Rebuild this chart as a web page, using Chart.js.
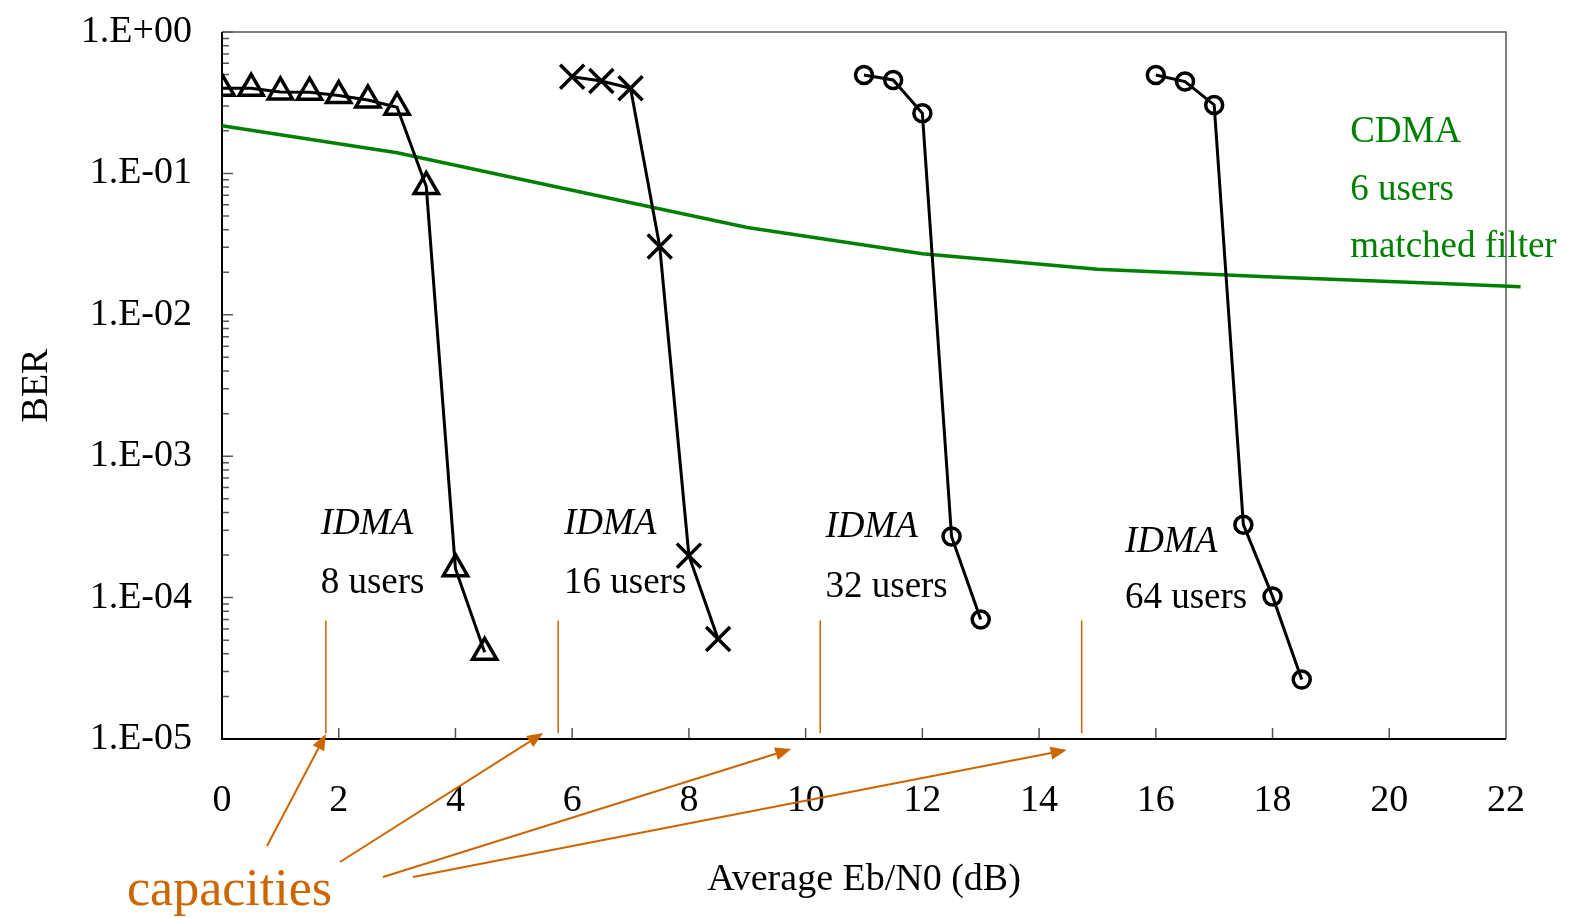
<!DOCTYPE html>
<html>
<head>
<meta charset="utf-8">
<script src="https://cdn.jsdelivr.net/npm/chart.js@4.4.1/dist/chart.umd.min.js"></script>
<style>
  html, body { margin: 0; padding: 0; background: #fff; }
  canvas { display: block; }
</style>
</head>
<body>
<canvas id="ber-chart" width="1579" height="918"></canvas>
<script>
  // IDMA, 8 users (triangles)
  var snr8 = [0, 0.5, 1, 1.5, 2, 2.5, 3, 3.5, 4, 4.5];
  var ber8 = [0.40, 0.40, 0.377, 0.375, 0.355, 0.33, 0.294, 0.0807, 1.6e-4, 4.1e-5];
  // IDMA, 16 users (crosses)
  var snr16 = [6, 6.5, 7, 7.5, 8, 8.5];
  var ber16 = [0.483, 0.45, 0.40, 0.0304, 1.98e-4, 5.1e-5];
  // IDMA, 32 users (circles)
  var snr32 = [11, 11.5, 12, 12.5, 13];
  var ber32 = [0.497, 0.458, 0.266, 2.71e-4, 7.0e-5];
  // IDMA, 64 users (circles)
  var snr64 = [16, 16.5, 17, 17.5, 18, 18.5];
  var ber64 = [0.497, 0.446, 0.305, 3.28e-4, 1.02e-4, 2.63e-5];
  // CDMA, 6 users, matched filter
  var snrCdma = [0, 3, 6, 9, 12, 15, 18, 21, 22.25];
  var berCdma = [0.217, 0.14, 0.076, 0.0414, 0.027, 0.021, 0.0185, 0.0166, 0.0158];
  // capacity limits (dB)
  var capacities = [1.78, 5.76, 10.25, 14.73];
  var capTop = 6.9e-5;
  var capBottom = 1.1e-5;

  var xTicks = [0, 2, 4, 6, 8, 10, 12, 14, 16, 18, 20, 22];
  var yDecades = [1e-5, 1e-4, 1e-3, 1e-2, 1e-1, 1];

  // label text + anchors (data coords)
  var usersText = ['8 users', '16 users', '32 users', '64 users'];
  var idmaX = [1.69, 5.86, 10.34, 15.47];
  var idmaY = [2.83e-4, 2.83e-4, 2.69e-4, 2.09e-4];
  var usersY = [1.08e-4, 1.08e-4, 1.01e-4, 8.46e-5];
  var cdmaText = ['CDMA', '6 users', 'matched filter'];
  var cdmaX = 19.33;
  var cdmaY = [0.168, 0.065, 0.0258];

  var SERIF = "'Liberation Serif', 'Times New Roman', serif";
  var ORANGE = '#cc6600';
  var GREEN = '#008000';

  function pts(xs, ys) {
    return xs.map(function (x, i) { return { x: x, y: ys[i] }; });
  }

  function idma(data, style, radius) {
    return {
      data: data,
      borderColor: '#000',
      borderWidth: 3,
      pointStyle: style,
      pointRadius: radius,
      pointBorderWidth: 3.5,
      pointBorderColor: '#000',
      pointBackgroundColor: 'rgba(0,0,0,0)',
      tension: 0
    };
  }

  var datasets = [
    idma(pts(snr8, ber8), 'triangle', 14),
    idma(pts(snr16, ber16), 'crossRot', 17),
    idma(pts(snr32, ber32), 'circle', 8.5),
    idma(pts(snr64, ber64), 'circle', 8.5),
    {
      data: pts(snrCdma, berCdma),
      borderColor: GREEN,
      borderWidth: 3.5,
      pointRadius: 0,
      clip: false,
      tension: 0
    }
  ];
  capacities.forEach(function (c) {
    datasets.push({
      data: [{ x: c, y: capTop }, { x: c, y: capBottom }],
      borderColor: ORANGE,
      borderWidth: 1.5,
      pointRadius: 0
    });
  });

  // frame + inward ticks
  var framePlugin = {
    id: 'frame',
    beforeDatasetsDraw: function (chart) {
      var ctx = chart.ctx, a = chart.chartArea;
      var xs = chart.scales.x, ys = chart.scales.y;
      ctx.save();
      ctx.strokeStyle = '#555';
      ctx.lineWidth = 1.5;
      ctx.beginPath();
      ctx.moveTo(a.left, a.top); ctx.lineTo(a.right, a.top); ctx.lineTo(a.right, a.bottom);
      ctx.stroke();

      ctx.beginPath();
      xTicks.forEach(function (t) {
        if (t === 0 || t === 22) return;
        var px = xs.getPixelForValue(t);
        ctx.moveTo(px, a.bottom); ctx.lineTo(px, a.bottom - 11);
      });
      yDecades.forEach(function (d) {
        var py = ys.getPixelForValue(d);
        ctx.moveTo(a.left, py); ctx.lineTo(a.left + 11, py);
        if (d < 1) {
          for (var k = 2; k <= 9; k++) {
            var pm = ys.getPixelForValue(d * k);
            ctx.moveTo(a.left, pm); ctx.lineTo(a.left + 7, pm);
          }
        }
      });
      ctx.stroke();

      ctx.strokeStyle = '#000';
      ctx.lineWidth = 2;
      ctx.beginPath();
      ctx.moveTo(a.left, a.top); ctx.lineTo(a.left, a.bottom); ctx.lineTo(a.right, a.bottom);
      ctx.stroke();
      ctx.restore();
    }
  };

  function arrow(ctx, x0, y0, x1, y1) {
    var ang = Math.atan2(y1 - y0, x1 - x0), len = 16, half = 6.5;
    var bx = x1 - Math.cos(ang) * len, by = y1 - Math.sin(ang) * len;
    ctx.beginPath();
    ctx.moveTo(x0, y0); ctx.lineTo(bx, by);
    ctx.stroke();
    ctx.beginPath();
    ctx.moveTo(x1, y1);
    ctx.lineTo(bx - Math.sin(ang) * half, by + Math.cos(ang) * half);
    ctx.lineTo(bx + Math.sin(ang) * half, by - Math.cos(ang) * half);
    ctx.closePath();
    ctx.fill();
  }

  var labelPlugin = {
    id: 'labels',
    afterDatasetsDraw: function (chart) {
      var ctx = chart.ctx, a = chart.chartArea;
      var xs = chart.scales.x, ys = chart.scales.y;
      ctx.save();
      ctx.textAlign = 'left';
      ctx.textBaseline = 'alphabetic';
      ctx.fillStyle = '#000';
      usersText.forEach(function (t, i) {
        var px = xs.getPixelForValue(idmaX[i]);
        ctx.font = 'italic 37px ' + SERIF;
        ctx.fillText('IDMA', px, ys.getPixelForValue(idmaY[i]));
        ctx.font = '37px ' + SERIF;
        ctx.fillText(t, px, ys.getPixelForValue(usersY[i]));
      });
      ctx.fillStyle = GREEN;
      ctx.font = '37px ' + SERIF;
      cdmaText.forEach(function (t, i) {
        ctx.fillText(t, xs.getPixelForValue(cdmaX), ys.getPixelForValue(cdmaY[i]));
      });

      // "capacities" label with arrows to each capacity line
      var lx = 127, ly = 905;
      ctx.fillStyle = ORANGE;
      ctx.font = '52px ' + SERIF;
      ctx.fillText('capacities', lx, ly);
      var starts = [[140, -59], [213, -43], [256, -28], [286, -28]];
      var tips = [[0, -5], [-15, -6], [-29, 10], [-15, 11]];
      ctx.strokeStyle = ORANGE;
      ctx.lineWidth = 2;
      capacities.forEach(function (c, i) {
        var cx = xs.getPixelForValue(c);
        arrow(ctx, lx + starts[i][0], ly + starts[i][1], cx + tips[i][0], a.bottom + tips[i][1]);
      });
      ctx.restore();
    }
  };

  var ctx = document.getElementById('ber-chart').getContext('2d');
  var berChart = new Chart(ctx, {
    type: 'line',
    data: { datasets: datasets },
    options: {
      responsive: false,
      animation: false,
      layout: { autoPadding: false, padding: { top: 32, right: 73, bottom: 0, left: 0 } },
      plugins: {
        legend: { display: false },
        tooltip: { enabled: false }
      },
      scales: {
        x: {
          type: 'linear',
          min: 0,
          max: 22,
          afterBuildTicks: function (scale) {
            scale.ticks = xTicks.map(function (v) { return { value: v }; });
          },
          afterFit: function (scale) {
            scale.height = 179;
            scale.paddingLeft = 0;
            scale.paddingRight = 0;
          },
          grid: { display: false, drawTicks: false },
          border: { display: false },
          ticks: {
            padding: 39,
            color: '#000',
            maxRotation: 0,
            autoSkip: false,
            font: { family: SERIF, size: 38 }
          },
          title: {
            display: true,
            text: 'Average Eb/N0 (dB)',
            color: '#000',
            font: { family: SERIF, size: 38 },
            padding: { top: 0, bottom: 15 }
          }
        },
        y: {
          type: 'logarithmic',
          min: 1e-5,
          max: 1,
          afterBuildTicks: function (scale) {
            scale.ticks = yDecades.map(function (v) { return { value: v }; });
          },
          afterFit: function (scale) {
            // keep the plot top at the layout padding, not label height + padding
            scale.width = 222;
            scale.paddingTop = 0;
            scale.paddingBottom = 0;
          },
          grid: { display: false, drawTicks: false },
          border: { display: false },
          ticks: {
            padding: 30,
            color: '#000',
            autoSkip: false,
            font: { family: SERIF, size: 38 },
            callback: function (v) {
              var e = Math.round(Math.log10(v));
              var s = String(Math.abs(e)).padStart(2, '0');
              return '1.E' + (e >= 0 ? '+' : '-') + s;
            }
          },
          title: {
            display: true,
            text: 'BER',
            color: '#000',
            font: { family: SERIF, size: 38 },
            padding: { top: 14, bottom: 0 }
          }
        }
      }
    },
    plugins: [framePlugin, labelPlugin]
  });
</script>
</body>
</html>
